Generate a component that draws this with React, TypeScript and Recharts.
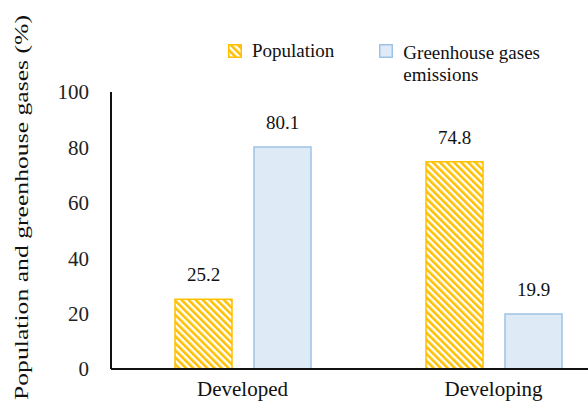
import { BarChart, Bar, XAxis, YAxis, LabelList } from 'recharts'

// values
const regions = ['Developed', 'Developing']
const population = [25.2, 74.8]
const emissions = [80.1, 19.9]
const yTicks = [0, 20, 40, 60, 80, 100]

const data = regions.map((region, i) => ({
  region,
  population: population[i],
  emissions: emissions[i],
}))

const serif = '"Liberation Serif", "Times New Roman", serif'
const yellow = '#FFC000'
const blueFill = '#DEEBF7'
const blueLine = '#9DC3E6'

// svg text was coming out sans, so force it with css
const fontCss = `.chart-wrap text, .chart-wrap tspan { font-family: "Liberation Serif", serif !important; }`

function YAxisTitle(props: any) {
  const vb = props.viewBox
  const cx = vb.x + 21
  const cy = vb.y + vb.height / 2 - 23
  return (
    <text
      x={cx}
      y={cy}
      transform={`rotate(-90 ${cx} ${cy})`}
      textAnchor="middle"
      dominantBaseline="central"
      textLength={385}
      lengthAdjust="spacingAndGlyphs"
      style={{ fontFamily: serif, fontSize: 19, fill: '#111' }}
    >
      Population and greenhouse gases (%)
    </text>
  )
}

function Hatch({ id }: { id: string }) {
  return (
    <pattern id={id} width={5} height={5} patternUnits="userSpaceOnUse" patternTransform="rotate(-45)">
      <rect width={5} height={5} fill="#fff" />
      <rect width={2.6} height={5} fill={yellow} />
    </pattern>
  )
}

// drawn as a plain overlay so it doesn't eat into the plot area
function ChartLegend() {
  return (
    <div
      style={{
        position: 'absolute',
        top: 40,
        left: 228,
        display: 'flex',
        alignItems: 'flex-start',
        fontFamily: serif,
        fontSize: 19,
        lineHeight: '22px',
        color: '#111',
      }}
    >
      <div style={{ display: 'flex', alignItems: 'flex-start' }}>
        <svg width={14} height={14} style={{ marginTop: 4, marginRight: 10 }}>
          <defs>
            <Hatch id="legendHatch" />
          </defs>
          <rect x={0.75} y={0.75} width={12.5} height={12.5} fill="url(#legendHatch)" stroke={yellow} strokeWidth={1.5} />
        </svg>
        <span>Population</span>
      </div>
      <div style={{ display: 'flex', alignItems: 'flex-start', marginLeft: 45 }}>
        <svg width={14} height={14} style={{ marginTop: 4, marginRight: 10 }}>
          <rect x={0.75} y={0.75} width={12.5} height={12.5} fill={blueFill} stroke={blueLine} strokeWidth={1.5} />
        </svg>
        <span style={{ marginTop: 2 }}>
          Greenhouse gases
          <br />
          emissions
        </span>
      </div>
    </div>
  )
}

export default function App() {
  return (
    <div
      className="chart-wrap"
      style={{
        position: 'absolute',
        left: 0,
        top: 0,
        width: 588,
        height: 401,
        overflow: 'hidden',
        background: '#fff',
        fontFamily: serif,
      }}
    >
      <style>{fontCss}</style>
      <BarChart
        width={640}
        height={401}
        data={data}
        margin={{ top: 92, right: 21, left: 0, bottom: 0 }}
        barGap={22}
      >
        <defs>
          <Hatch id="popHatch" />
        </defs>
        <XAxis
          dataKey="region"
          height={32}
          tickSize={0}
          tickMargin={12}
          padding={{ left: 6, right: 0 }}
          axisLine={{ stroke: '#111', strokeWidth: 2 }}
          tick={{ fontSize: 21, fill: '#111', fontFamily: serif }}
        />
        <YAxis
          width={111}
          domain={[0, 100]}
          ticks={yTicks}
          tickSize={0}
          tickMargin={22}
          axisLine={{ stroke: '#111', strokeWidth: 2 }}
          tick={{ fontSize: 21, fill: '#222', fontFamily: serif }}
          label={{ content: YAxisTitle }}
        />
        <Bar dataKey="population" fill="url(#popHatch)" stroke={yellow} strokeWidth={1.5} barSize={57} isAnimationActive={false}>
          <LabelList dataKey="population" position="top" offset={18} style={{ fontSize: 19, fill: '#111', fontFamily: serif }} />
        </Bar>
        <Bar dataKey="emissions" fill={blueFill} stroke={blueLine} strokeWidth={1.5} barSize={57} isAnimationActive={false}>
          <LabelList dataKey="emissions" position="top" offset={18} style={{ fontSize: 19, fill: '#111', fontFamily: serif }} />
        </Bar>
      </BarChart>
      <ChartLegend />
    </div>
  )
}
